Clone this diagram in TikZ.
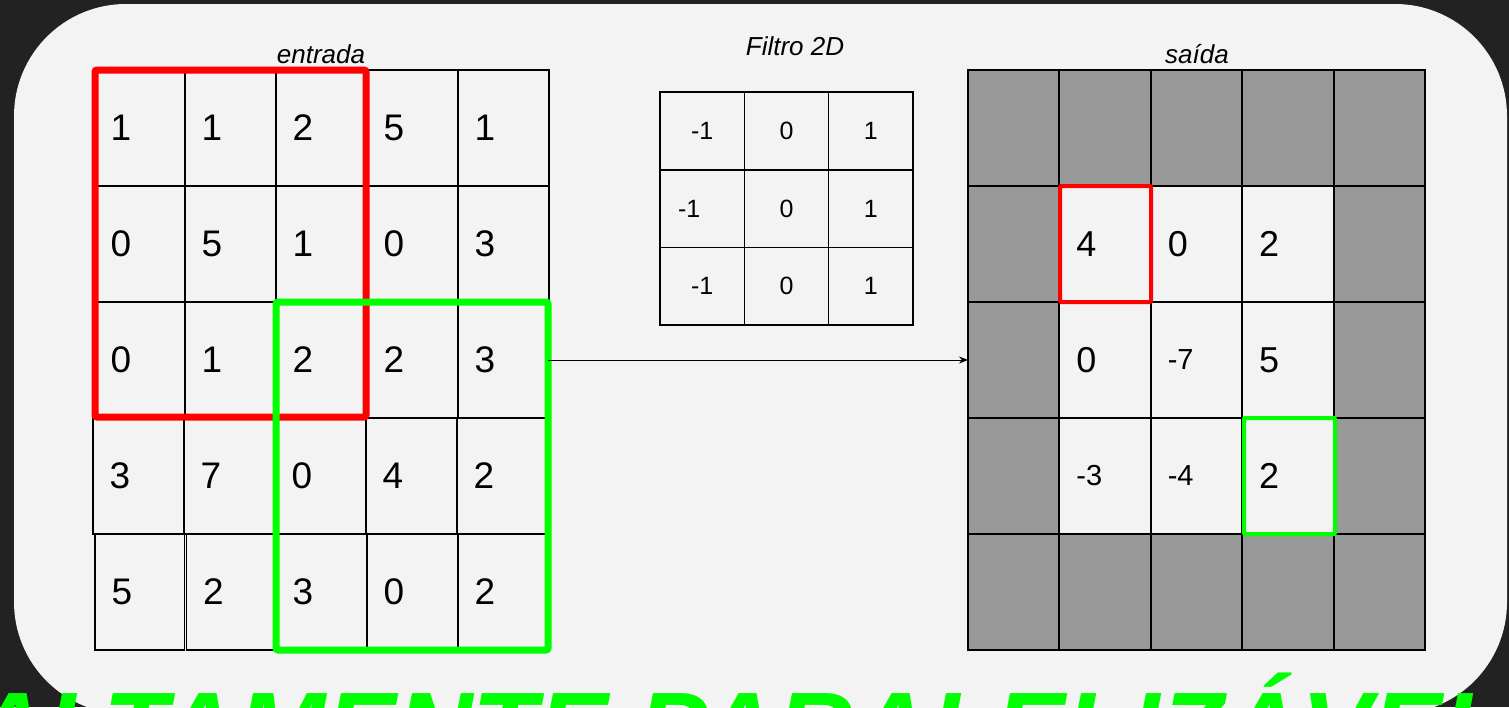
\documentclass[tikz,border=0pt]{standalone}
\usepackage{fontspec}
\setmainfont{Liberation Sans}
\usetikzlibrary{arrows.meta}
\definecolor{dark}{HTML}{222222}
\definecolor{panel}{HTML}{F3F3F3}
\definecolor{shade}{HTML}{999999}
\definecolor{hired}{HTML}{FF0000}
\definecolor{higreen}{HTML}{00FF00}
\tikzset{
  cellbase/.style={draw=black, rectangle, anchor=north west, inner ysep=0pt, outer sep=0pt},
  ecell/.style={cellbase, line width=1.5pt, minimum width=91pt, minimum height=116pt,
    text width=58pt, inner xsep=16.5pt, align=left, font=\fontsize{37}{37}\selectfont},
  fcell/.style={cellbase, line width=1.6pt, minimum width=84.3pt, minimum height=77.7pt,
    inner xsep=0pt, font=\fontsize{25}{25}\selectfont},
  scell/.style={cellbase, line width=2pt, minimum width=91.4pt, minimum height=116pt,
    text width=57.4pt, inner xsep=17pt, align=left, font=\fontsize{36}{36}\selectfont},
  neg/.style={font=\fontsize{29}{29}\selectfont},
  title/.style={anchor=base, inner sep=0pt, font=\fontsize{26}{26}\selectfont\itshape},
  bigwin/.style={draw, rounded corners=2pt, line width=7pt, anchor=north west, inner sep=0pt, outer sep=0pt},
  smallwin/.style={draw, rounded corners=1pt, line width=4pt, anchor=north west, inner sep=0pt, outer sep=0pt},
  conn/.style={draw=black, line width=1pt, -{Stealth[length=9pt,width=7pt]}},
}
\begin{document}
\begin{tikzpicture}[x=1pt, y=-1pt]
\useasboundingbox (0,0) rectangle (1509,707);
\clip (0,0) rectangle (1509,707);
\fill[dark] (0,0) rectangle (1509,707);
\fill[panel, rounded corners=112pt] (14,4) rectangle (1507,714);

% entrada
\foreach \row/\yy/\dx/\vals in {0/70/0/{1,1,2,5,1}, 1/186/0/{0,5,1,0,3}, 2/302/0/{0,1,2,2,3}, 3/418/-1/{3,7,0,4,2}}{
  \foreach \v [count=\c from 0] in \vals {
    \node[ecell] (e-\row-\c) at ({94+\dx+91*\c},\yy) {\v};
  }
}
\node[ecell, minimum width=89.5pt, text width=56.5pt] (e-4-0) at (95,534) {5};
\node[ecell, minimum width=89.5pt, text width=56.5pt] (e-4-1) at (186.5,534) {2};
\node[ecell] (e-4-2) at (276,534) {3};
\node[ecell] (e-4-3) at (367,534) {0};
\node[ecell] (e-4-4) at (458,534) {2};
\node[title] (t-in) at (321,63) {entrada};

\node[bigwin, draw=hired, minimum width=271pt, minimum height=347pt] (rwin) at (95,70) {};
\node[bigwin, draw=higreen, minimum width=272pt, minimum height=348pt] (gwin) at (276,302) {};

% filtro
\node[title] (t-f) at (795,55) {Filtro 2D};
\foreach \row in {0,2}{
  \foreach \v [count=\c from 0] in {-1,0,1}{
    \node[fcell] (f-\row-\c) at ({660+84.3*\c},{92+77.7*\row}) {\v};
  }
}
\node[fcell] (f-1-0) at (660,169.7) {\kern-26pt-1};
\node[fcell] (f-1-1) at (744.3,169.7) {0};
\node[fcell] (f-1-2) at (828.6,169.7) {1};

% saida
\foreach \r in {0,...,4}{
  \foreach \c in {0,...,4}{
    \pgfmathtruncatemacro\isinner{(\r>0)&&(\r<4)&&(\c>0)&&(\c<4)}
    \ifnum\isinner=0
      \node[scell, fill=shade] (s-\r-\c) at ({968+91.4*\c},{70+116*\r}) {};
    \fi
  }
}
\node[scell, fill=panel] (s-1-1) at (1059.4,186) {4};
\node[scell, fill=panel] (s-1-2) at (1150.8,186) {0};
\node[scell, fill=panel] (s-1-3) at (1242.2,186) {2};
\node[scell, fill=panel] (s-2-1) at (1059.4,302) {0};
\node[scell, fill=panel, neg] (s-2-2) at (1150.8,302) {-7};
\node[scell, fill=panel] (s-2-3) at (1242.2,302) {5};
\node[scell, fill=panel, neg] (s-3-1) at (1059.4,418) {-3};
\node[scell, fill=panel, neg] (s-3-2) at (1150.8,418) {-4};
\node[scell, fill=panel] (s-3-3) at (1242.2,418) {2};
\node[title] (t-out) at (1197,63) {saída};

\node[smallwin, draw=hired, minimum width=91pt, minimum height=116pt] (rout) at (1060,186) {};
\node[smallwin, draw=higreen, minimum width=91pt, minimum height=116pt] (gout) at (1244,418) {};

\draw[conn] (gwin.east |- s-2-0.west) -- (s-2-0.west);

\node[anchor=base west, inner sep=0pt, font=\fontsize{106}{106}\selectfont\bfseries\itshape, text=higreen] (slogan) at (-30,766) {ALTAMENTE PARALELIZÁVEL};
\end{tikzpicture}
\end{document}
